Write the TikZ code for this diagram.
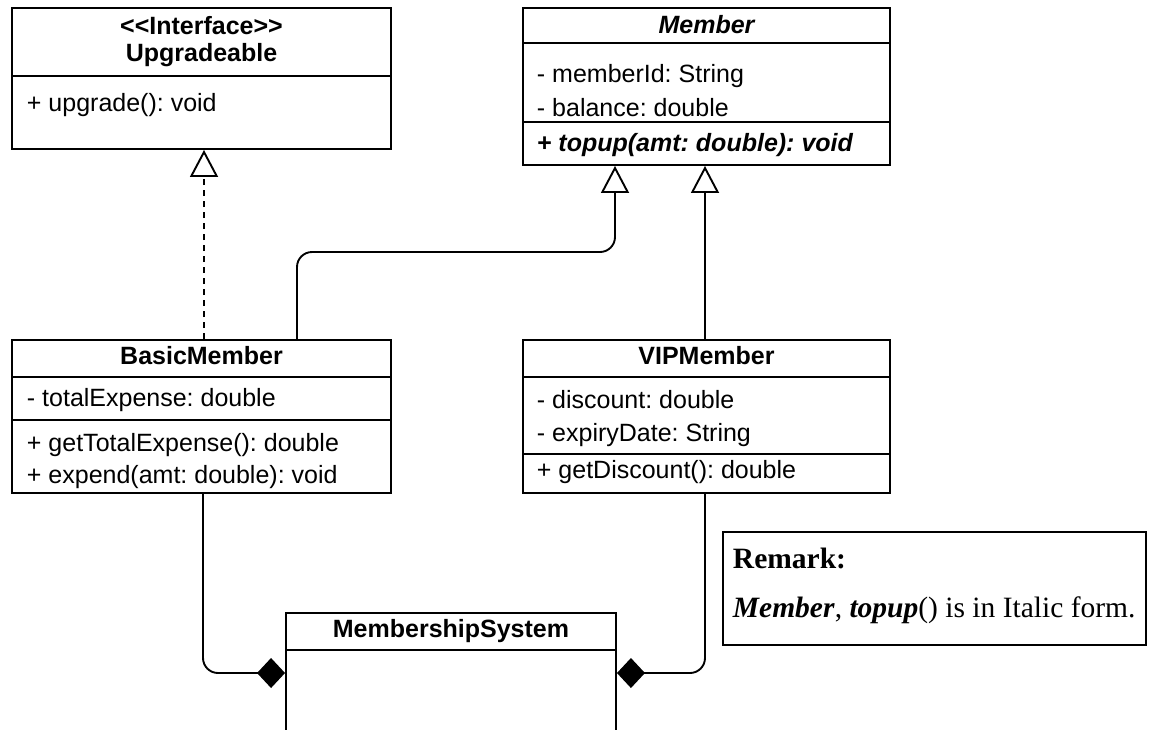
\documentclass[tikz,border=0pt]{standalone}
\usepackage{fontspec}
\newfontfamily\umlsans{Liberation Sans}
\newfontfamily\remserif{Liberation Serif}
\usetikzlibrary{arrows.meta}
\newcommand\umlfont{\umlsans\fontsize{25}{29}\selectfont}
\newcommand\remfont{\remserif\fontsize{29.5}{35}\selectfont}
\frenchspacing
\begin{document}
\begin{tikzpicture}[x=1pt,y=-1pt,line width=1.9pt,
  classbox/.style={draw, rectangle, inner sep=0pt, line width=1.9pt},
  title/.style={inner sep=0pt, font=\umlfont\bfseries},
  member/.style={inner sep=0pt, anchor=west, font=\umlfont},
  gen/.style={draw, line width=1.9pt, -{Triangle[open,length=27pt,width=28pt]}},
  real/.style={gen, dash pattern=on 6pt off 5pt},
  comp/.style={draw, line width=1.9pt, -{Diamond[length=28pt,width=30pt]}}]
\clip (0,0) rectangle (1151,729);

% Upgradeable
\node[classbox, minimum width=379pt, minimum height=141pt] (upg) at (201.5,78.5) {};
\draw (upg.west |- 0,76) -- (upg.east |- 0,76);
\node[title] (upgt1) at (201.5,26) {<<Interface>>};
\node[title] (upgt2) at (201.5,55) {Upgradeable};
\node[member] (upgm1) at (26,105) {+ upgrade(): void};

% Member
\node[classbox, minimum width=367pt, minimum height=157pt] (member) at (706.5,86.5) {};
\draw (member.west |- 0,43) -- (member.east |- 0,43);
\draw (member.west |- 0,122) -- (member.east |- 0,122);
\node[title] (membert) at (706.5,25) {\itshape Member};
\node[member] (mema1) at (536,76) {- memberId: String};
\node[member] (mema2) at (536,108) {- balance: double};
\node[member, font=\umlfont\bfseries\itshape] (memm1) at (536,145) {+ topup(amt: double): void};

% BasicMember
\node[classbox, minimum width=379pt, minimum height=153pt] (basic) at (201.5,416.5) {};
\draw (basic.west |- 0,377) -- (basic.east |- 0,377);
\draw (basic.west |- 0,420) -- (basic.east |- 0,420);
\node[title] (basict) at (201.5,356) {BasicMember};
\node[member] (basica1) at (26,400) {- totalExpense: double};
\node[member] (basicm1) at (26,445) {+ getTotalExpense(): double};
\node[member] (basicm2) at (26,477) {+ expend(amt: double): void};

% VIPMember
\node[classbox, minimum width=367pt, minimum height=153pt] (vip) at (706.5,416.5) {};
\draw (vip.west |- 0,377) -- (vip.east |- 0,377);
\draw (vip.west |- 0,454) -- (vip.east |- 0,454);
\node[title] (vipt) at (706.5,356) {VIPMember};
\node[member] (vipa1) at (536,400) {- discount: double};
\node[member] (vipa2) at (536,435) {- expiryDate: String};
\node[member] (vipm1) at (536,472) {+ getDiscount(): double};

% MembershipSystem
\node[classbox, minimum width=330pt, minimum height=120pt] (ms) at (451,673) {};
\draw (ms.west |- 0,650) -- (ms.east |- 0,650);
\node[title] (mst) at (451,631) {MembershipSystem};

% Remark
\node[draw, rectangle, inner sep=0pt, line width=1.2pt, minimum width=423pt, minimum height=113pt] (remark) at (934.5,588.5) {};
\node[inner sep=0pt, anchor=base west, font=\remfont] (rem1) at (732,568) {\bfseries Remark:};
\node[inner sep=0pt, anchor=base west, font=\remfont] (rem2) at (732,617) {\textbf{\textit{Member}}, \textbf{\textit{topup}}() is in Italic form.};

% Connectors
\coordinate (mid) at (450,252);
\path[real] ([xshift=2.5pt]basic.north) -- ([xshift=2.5pt]upg.south);
\path[gen, rounded corners=15pt] ([xshift=95.5pt]basic.north) |- (mid) -| ([xshift=-91.5pt]member.south);
\path[gen] ([xshift=-1.5pt]vip.north) -- ([xshift=-1.5pt]member.south);
\path[comp, rounded corners=15pt] ([xshift=1.5pt]basic.south) |- (ms.west);
\path[comp, rounded corners=15pt] ([xshift=-1.5pt]vip.south) |- (ms.east);
\end{tikzpicture}
\end{document}
